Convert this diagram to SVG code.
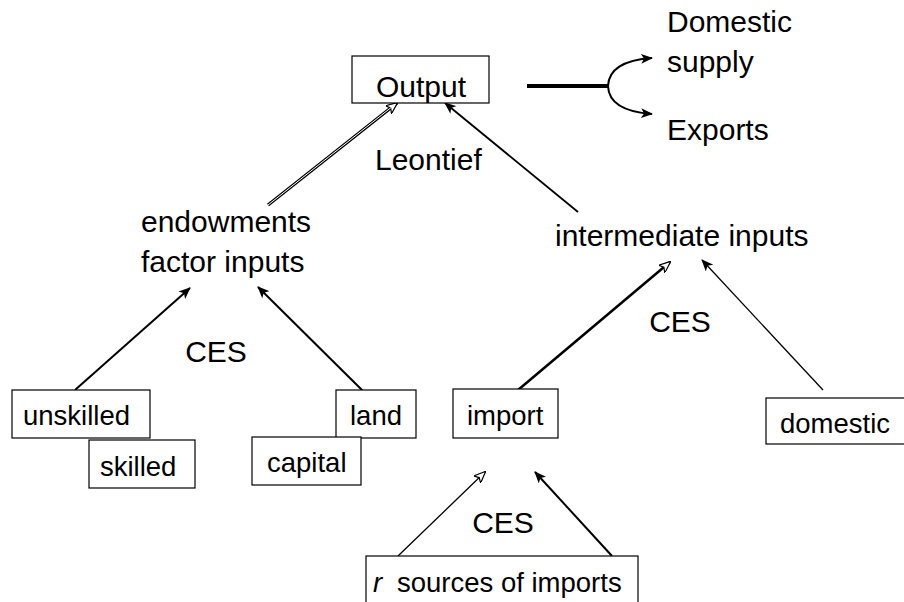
<svg xmlns="http://www.w3.org/2000/svg" width="904" height="602" viewBox="0 0 904 602">
<defs>
<style>
text{font-family:"Liberation Sans",Arial,sans-serif;fill:#000}
.lbl{font-size:30px}
.bt{font-size:27.5px}
.box{fill:#fff;stroke:#000;stroke-width:1.2}
.c{fill:none;stroke:#000}
</style>
<marker id="ah" markerWidth="12" markerHeight="10" refX="11" refY="5" orient="auto" markerUnits="userSpaceOnUse">
<path d="M0,0 L12,5 L0,10 L3,5 Z" fill="#000"/>
</marker>
<marker id="ahh" markerWidth="12" markerHeight="10" refX="11" refY="5" orient="auto" markerUnits="userSpaceOnUse">
<path d="M0,0 L12,5 L0,10 L3,5 Z" fill="#fff" stroke="#000" stroke-width="1.2"/>
</marker>
</defs>
<rect width="904" height="602" fill="#fff"/>
<g id="connectors">
<line class="c" x1="268" y1="205" x2="397" y2="103" stroke-width="3.2" stroke="#333" marker-end="url(#ahh)"/>
<line x1="268" y1="205" x2="393" y2="106" stroke="#fff" stroke-width="1"/>
<line class="c" x1="578" y1="212" x2="445" y2="103" stroke-width="1.8" marker-end="url(#ah)"/>
<line class="c" x1="75" y1="390" x2="190" y2="288" stroke-width="2" marker-end="url(#ah)"/>
<line class="c" x1="363" y1="391" x2="258" y2="287" stroke-width="2" marker-end="url(#ah)"/>
<line class="c" x1="518" y1="390" x2="670" y2="262" stroke-width="2.5" marker-end="url(#ahh)"/>
<line class="c" x1="823" y1="390" x2="702" y2="260" stroke-width="1.3" marker-end="url(#ah)"/>
<line class="c" x1="398" y1="556" x2="485" y2="472" stroke-width="1.3" marker-end="url(#ahh)"/>
<line class="c" x1="612" y1="556" x2="535" y2="472" stroke-width="2" marker-end="url(#ah)"/>
<line class="c" x1="527" y1="86" x2="609" y2="86" stroke-width="4"/>
<path class="c" d="M608,86 Q609,61 652,58" stroke-width="2" marker-end="url(#ah)"/>
<path class="c" d="M608,86 Q609,111 652,114" stroke-width="2" marker-end="url(#ah)"/>
</g>
<g id="output">
<rect class="box" x="352" y="56" width="137" height="47"/>
<text class="lbl" x="421" y="97" text-anchor="middle">Output</text>
</g>
<g id="domestic-supply">
<text class="lbl" x="667" y="32">Domestic</text>
<text class="lbl" x="667" y="72">supply</text>
</g>
<g id="exports">
<text class="lbl" x="667" y="140">Exports</text>
</g>
<g id="leontief">
<text class="lbl" x="375" y="170">Leontief</text>
</g>
<g id="factor-inputs">
<text class="lbl" x="141" y="232">endowments</text>
<text class="lbl" x="141" y="272">factor inputs</text>
</g>
<g id="intermediate-inputs">
<text class="lbl" x="555" y="246">intermediate inputs</text>
</g>
<g id="ces-labels">
<text class="lbl" x="216" y="362" text-anchor="middle">CES</text>
<text class="lbl" x="680" y="332" text-anchor="middle">CES</text>
<text class="lbl" x="503" y="533" text-anchor="middle">CES</text>
</g>
<g id="unskilled">
<rect class="box" x="12" y="390" width="138" height="48"/>
<text class="bt" x="23" y="425">unskilled</text>
</g>
<g id="skilled">
<rect class="box" x="89" y="440" width="106" height="48"/>
<text class="bt" x="100" y="476">skilled</text>
</g>
<g id="land">
<rect class="box" x="336" y="390" width="80" height="48"/>
<text class="bt" x="350" y="425">land</text>
</g>
<g id="capital">
<rect class="box" x="252" y="437" width="109" height="48"/>
<text class="bt" x="267" y="472">capital</text>
</g>
<g id="import">
<rect class="box" x="453" y="389" width="105" height="49"/>
<text class="bt" x="467" y="425">import</text>
</g>
<g id="domestic">
<rect class="box" x="766" y="398" width="145" height="46"/>
<text class="bt" x="780" y="433">domestic</text>
</g>
<g id="sources">
<rect class="box" x="366" y="556" width="272" height="60"/>
<text class="bt" x="373" y="592"><tspan font-style="italic">r</tspan><tspan x="397">sources of imports</tspan></text>
</g>
</svg>
